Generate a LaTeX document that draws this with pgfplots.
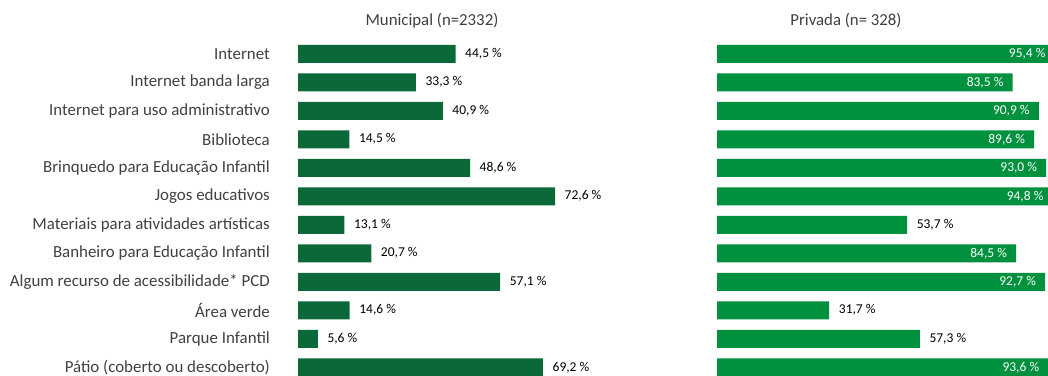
\documentclass[border=0pt]{standalone}
\usepackage{fontspec}
\setmainfont{Carlito}
\usepackage{pgfplots}
\pgfplotsset{compat=1.18}
\usepackage{pgfplotstable}

\definecolor{muni}{HTML}{0B6838}
\definecolor{priv}{HTML}{00913F}
\definecolor{txt}{HTML}{404040}

% municipal
\pgfplotstableread{
y v
0 44.5
1 33.3
2 40.9
3 14.5
4 48.6
5 72.6
6 13.1
7 20.7
8 57.1
9 14.6
10 5.6
11 69.2
}\muni

% privada, labels inside the bar
\pgfplotstableread{
y v
0 95.4
1 83.5
2 90.9
3 89.6
4 93.0
5 94.8
7 84.5
8 92.7
11 93.6
}\privin

% privada, labels outside the bar
\pgfplotstableread{
y v
6 53.7
9 31.7
10 57.3
}\privout

\pgfplotsset{
  panel/.style={
    scale only axis, height=342bp, width=354bp,
    y dir=reverse, ymin=-0.5, ymax=11.5, xmin=0, xmax=100,
    clip=false, xbar, bar width=18bp, bar shift=0pt,
    point meta=x,
    nodes near coords={\pgfmathprintnumber[fixed,fixed zerofill,precision=1,use comma,assume math mode=true]{\pgfplotspointmeta}~\%},
  },
  outlbl/.style={nodes near coords style={font=\fontsize{13.5bp}{15bp}\selectfont, text=black, inner sep=0pt, anchor=west, xshift=9.5bp}},
  inlbl/.style={nodes near coords style={font=\fontsize{13.5bp}{15bp}\selectfont, text=white, inner sep=0pt, anchor=east, xshift=-9bp}},
}

\begin{document}
\begin{tikzpicture}
\path[use as bounding box] (0,0) rectangle (1048bp,-376bp);

\node[font=\fontsize{16.8bp}{19bp}\selectfont, text=txt] at (432bp,-21bp) {Municipal (n=2332)};
\node[font=\fontsize{16.8bp}{19bp}\selectfont, text=txt] at (846bp,-21bp) {Privada (n= 328)};

\begin{axis}[panel, at={(298bp,-39.5bp)}, anchor=north west,
  hide x axis, y axis line style={draw=none}, major tick length=0pt,
  ytick={0,...,11},
  yticklabels={Internet, Internet banda larga, Internet para uso administrativo, Biblioteca, Brinquedo para Educação Infantil, Jogos educativos, Materiais para atividades artísticas, Banheiro para Educação Infantil, Algum recurso de acessibilidade* PCD, Área verde, Parque Infantil, Pátio (coberto ou descoberto)},
  yticklabel style={font=\fontsize{16.9bp}{19bp}\selectfont, text=txt, inner sep=0pt, anchor=east, xshift=-28bp},
]
\addplot[draw=none, fill=muni, outlbl] table[x=v, y=y] {\muni};
\end{axis}

\begin{axis}[panel, at={(717bp,-39.5bp)}, anchor=north west, hide axis]
\addplot[draw=none, fill=priv, inlbl] table[x=v, y=y] {\privin};
\addplot[draw=none, fill=priv, outlbl] table[x=v, y=y] {\privout};
\end{axis}
\end{tikzpicture}
\end{document}
